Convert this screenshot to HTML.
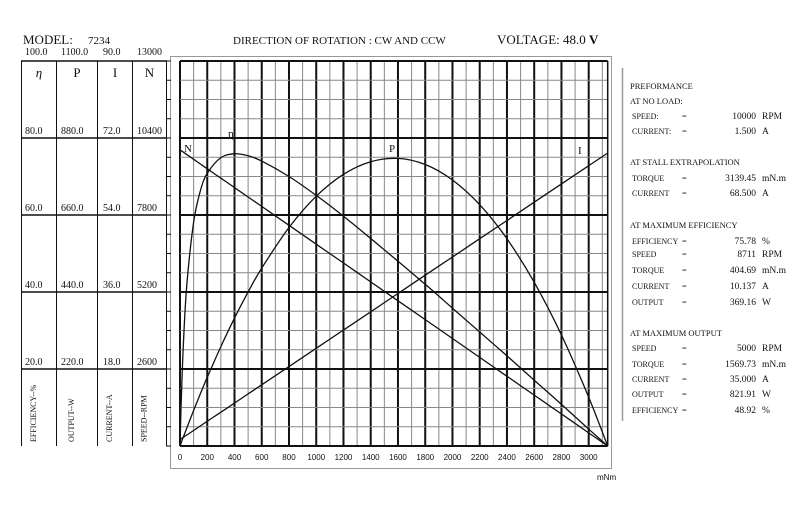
<!DOCTYPE html>
<html><head><meta charset="utf-8"><style>
html,body{margin:0;padding:0;background:#fff;width:800px;height:506px;overflow:hidden}
svg{display:block}
.s{font-family:"Liberation Serif",serif;fill:#111}
.a{font-family:"Liberation Sans",sans-serif;fill:#111}
</style></head><body>
<svg id="c" width="800" height="506" xmlns="http://www.w3.org/2000/svg">
<g id="hdr">
<text class="s" x="23" y="44" font-size="13">MODEL:</text>
<text class="s" x="88" y="44" font-size="11">7234</text>
<text class="s" x="233" y="44" font-size="11">DIRECTION OF ROTATION : CW AND CCW</text>
<text class="s" x="497" y="44" font-size="13">VOLTAGE:  48.0  <tspan font-weight="bold">V</tspan></text>
</g>
<rect x="170.5" y="56.5" width="441" height="412" fill="none" stroke="#999" stroke-width="1"/>
<g id="grid"></g>
<g id="table"></g>
<g id="curves"></g>
<g id="panel"></g>
</svg>
<script>
const torque=[0,5,10,25,50,100,150,200,300,400,500,600,800,1000,1200,1400,1600,1800,2000,2200,2400,2600,2800,3000,3139.45];
const speed=[10000,9984,9968,9920,9841,9682,9522,9363,9044,8726,8407,8089,7452,6815,6178,5541,4904,4267,3629,2992,2355,1718,1081,444,0];
const current=[1.5,1.61,1.71,2.03,2.57,3.63,4.70,5.77,7.90,10.04,12.17,14.31,18.57,22.84,27.11,31.38,35.65,39.92,44.18,48.45,52.72,56.99,61.26,65.53,68.5];
const output=[0,5.2,10.4,26.0,51.5,101.4,149.6,196.1,284.1,365.5,440.2,508.2,624.3,713.6,776.3,812.3,821.6,804.2,760.1,689.4,591.9,467.9,317.0,139.5,0];
const efficiency=[0,6.8,12.7,26.6,41.8,58.1,66.3,70.8,74.9,75.9,75.4,74.0,70.0,65.1,59.7,53.9,48.0,42.0,35.8,29.6,23.4,17.1,10.8,4.4,0];
const xTicks=[0,200,400,600,800,1000,1200,1400,1600,1800,2000,2200,2400,2600,2800,3000];
const effTicks=["100.0","80.0","60.0","40.0","20.0"];
const powTicks=["1100.0","880.0","660.0","440.0","220.0"];
const curTicks=["90.0","72.0","54.0","36.0","18.0"];
const spdTicks=["13000","10400","7800","5200","2600"];
const NS="http://www.w3.org/2000/svg";
const X0=180,XS=408.7/3000,Y0=446,H=385,XMAX=3139.45;
const x=t=>X0+t*XS;
const yFrac=f=>Y0-f*H;
function mk(tag,attrs,parent,txt){const e=document.createElementNS(NS,tag);for(const k in attrs)e.setAttribute(k,attrs[k]);if(txt!==undefined)e.textContent=txt;parent.appendChild(e);return e;}
const grid=document.getElementById('grid');
const xr=x(XMAX);
for(let t=0;t<=3100;t+=100){const l=mk('line',{x1:x(t),x2:x(t),y1:yFrac(1),y2:Y0,stroke:t%200===0?'#111':'#888','stroke-width':t%200===0?2:1},grid);

}
for(let i=0;i<=20;i++){const major=i%4===0;const l=mk('line',{x1:X0,x2:xr,y1:yFrac(i/20),y2:yFrac(i/20),stroke:major?'#111':'#888','stroke-width':major?2:1},grid);

}
const rb=mk('line',{x1:xr,x2:xr,y1:yFrac(1),y2:Y0,stroke:'#111','stroke-width':1.5},grid);


xTicks.forEach(t=>{const tx=mk('text',{x:x(t),y:460,'text-anchor':'middle','font-size':8,class:'a'},grid,String(t));

});
const un=mk('text',{x:597,y:480,'font-size':8,class:'a'},grid,'mNm');


const tb=document.getElementById('table');
const cols=[21.5,56.5,97.5,132.5,166.5];
cols.forEach(cx=>{const l=mk('line',{x1:cx,x2:cx,y1:yFrac(1),y2:Y0,stroke:'#111','stroke-width':1},tb);

});
for(let i=1;i<=5;i++){const l=mk('line',{x1:21,x2:167,y1:yFrac(i/5),y2:yFrac(i/5),stroke:'#111','stroke-width':1.5},tb);

}
for(let i=0;i<=20;i++){const l=mk('line',{x1:166,x2:171,y1:yFrac(i/20),y2:yFrac(i/20),stroke:'#111','stroke-width':1},tb);

}
const colsets=[[effTicks,25],[powTicks,61],[curTicks,103],[spdTicks,137]];
const heads=['η','P','I','N'];
colsets.forEach(([arr,cx],ci)=>{
 arr.forEach((v,i)=>{const ty=i===0?55:yFrac(1-i/5)-4;const t=mk('text',{x:cx,y:ty,'font-size':10,class:'s'},tb,v);
 
 });
 const mid=(cols[ci]+cols[ci+1])/2;
 const h=mk('text',{x:mid,y:77,'text-anchor':'middle','font-size':13,class:'s','font-style':ci===0?'italic':'normal'},tb,heads[ci]);
 
 
});
const rot=['EFFICIENCY--%','OUTPUT--W','CURRENT--A','SPEED--RPM'];
rot.forEach((r,i)=>{const mid=(cols[i]+cols[i+1])/2-6;const t=mk('text',{x:0,y:0,'font-size':8,class:'s',transform:`translate(${mid+3},442) rotate(-90)`},tb,r);

});
const cv=document.getElementById('curves');
function series(vals,max,name){
 const pts=torque.map((t,i)=>[x(t),yFrac(vals[i]/max)]);
 let d='M'+pts[0][0].toFixed(1)+','+pts[0][1].toFixed(1);
 for(let i=0;i<pts.length-1;i++){
  const p0=pts[Math.max(0,i-1)],p1=pts[i],p2=pts[i+1],p3=pts[Math.min(pts.length-1,i+2)];
  const c1x=p1[0]+(p2[0]-p0[0])/6,c1y=p1[1]+(p2[1]-p0[1])/6;
  const c2x=p2[0]-(p3[0]-p1[0])/6,c2y=p2[1]-(p3[1]-p1[1])/6;
  d+='C'+c1x.toFixed(1)+','+c1y.toFixed(1)+' '+c2x.toFixed(1)+','+c2y.toFixed(1)+' '+p2[0].toFixed(1)+','+p2[1].toFixed(1);
 }
 const p=mk('path',{d:d,fill:'none',stroke:'#111','stroke-width':1.3},cv);
 
 }
series(speed,13000,'speed-line');
series(current,90,'current-line');
series(output,1100,'output-curve');
series(efficiency,100,'efficiency-curve');
[['N',184,152,'speed-label'],['η',228,137,'efficiency-label'],['P',389,152,'output-label'],['I',578,154,'current-label']].forEach(([s,lx,ly,n])=>{
const t=mk('text',{x:lx,y:ly,'font-size':11,class:'s'},cv,s);

});
const pn=document.getElementById('panel');
const vl=mk('line',{x1:622.5,x2:622.5,y1:68,y2:421,stroke:'#999','stroke-width':1.5},pn);


const heads2=[['PREFORMANCE',89],['AT NO LOAD:',104],['AT STALL EXTRAPOLATION',165],['AT MAXIMUM EFFICIENCY',228],['AT MAXIMUM OUTPUT',336]];
heads2.forEach(([s,yy])=>{const t=mk('text',{x:630,y:yy,'font-size':8.5,class:'s'},pn,s);

});
const rows=[['SPEED:','10000','RPM',119],['CURRENT:','1.500','A',134],['TORQUE','3139.45','mN.m',181],['CURRENT','68.500','A',196],
['EFFICIENCY','75.78','%',244],['SPEED','8711','RPM',257],['TORQUE','404.69','mN.m',273],['CURRENT','10.137','A',289],['OUTPUT','369.16','W',305],
['SPEED','5000','RPM',351],['TORQUE','1569.73','mN.m',367],['CURRENT','35.000','A',382],['OUTPUT','821.91','W',397],['EFFICIENCY','48.92','%',413]];
rows.forEach(([l,v,u,yy])=>{
const a=mk('text',{x:632,y:yy,'font-size':8,class:'s'},pn,l);
const e=mk('text',{x:682,y:yy,'font-size':8.5,class:'s'},pn,'=');
const b=mk('text',{x:756,y:yy,'text-anchor':'end','font-size':9.5,class:'s'},pn,v);
const c=mk('text',{x:762,y:yy,'font-size':9.5,class:'s'},pn,u);});
</script>
</body></html>
